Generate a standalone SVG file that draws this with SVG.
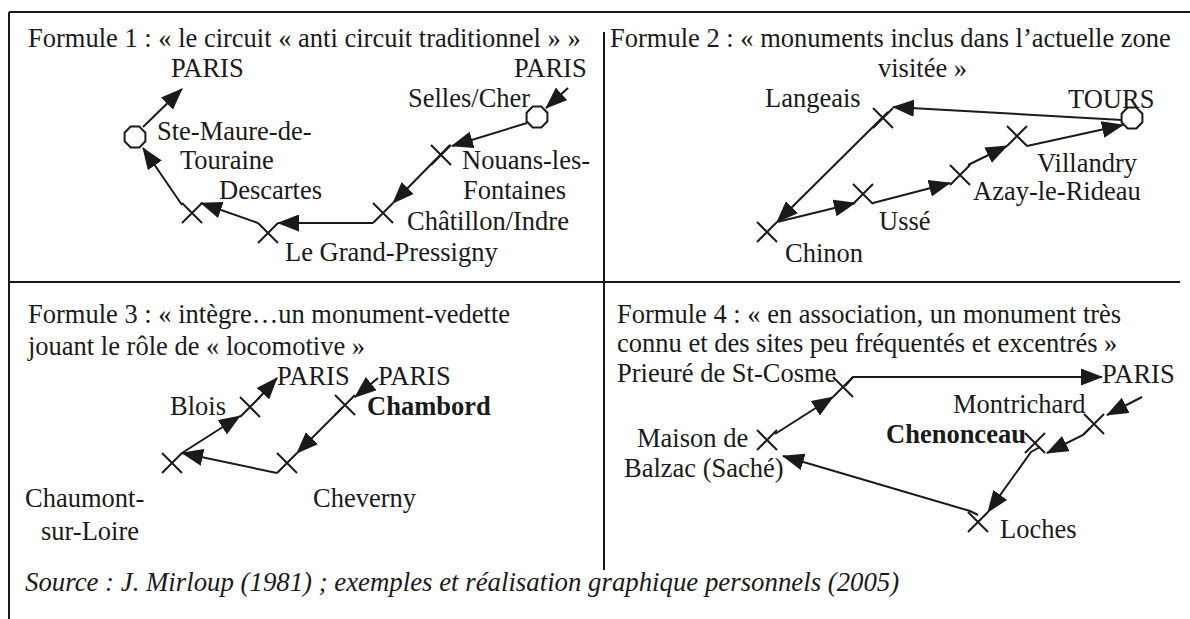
<svg xmlns="http://www.w3.org/2000/svg" width="1190" height="619" viewBox="0 0 1190 619">
<style>
text{font-family:"Liberation Serif","Times New Roman",serif;font-size:26.5px;fill:#1a1a1a}
.b{font-weight:bold}
.i{font-style:italic;font-size:26.8px}
.frame{stroke:#1a1a1a;stroke-width:2;fill:none}
.c{stroke:#1a1a1a;stroke-width:2;fill:none}
.a{stroke:#1a1a1a;stroke-width:2;fill:none;marker-end:url(#ah)}
.o{stroke:#1a1a1a;stroke-width:2;fill:#fff}
</style>
<defs>
<marker id="ah" markerUnits="userSpaceOnUse" markerWidth="22" markerHeight="17" viewBox="0 0 22 17" refX="21" refY="8.5" orient="auto">
<path d="M0,0 L22,8.5 L0,17 z" fill="#1a1a1a"/>
</marker>
<path id="x" d="M-10,-10 L10,10 M10,-10 L-10,10"/>
<polygon id="oct" points="4.3,-10.4 10.4,-4.3 10.4,4.3 4.3,10.4 -4.3,10.4 -10.4,4.3 -10.4,-4.3 -4.3,-10.4"/>
</defs>
<rect width="1190" height="619" fill="#fff"/>
<g id="frame">
<line class="frame" x1="9" y1="12" x2="1190" y2="12"/>
<line class="frame" x1="9" y1="12" x2="9" y2="619"/>
<line class="frame" x1="9" y1="282" x2="1180" y2="282"/>
<line class="frame" x1="604" y1="32" x2="604" y2="282"/>
<line class="frame" x1="604" y1="282" x2="604" y2="570"/>
</g>
<g id="connectors">
<line class="a" x1="143" y1="127" x2="182" y2="89"/>
<line class="a" x1="182" y1="205" x2="143" y2="148"/>
<line class="a" x1="258" y1="223" x2="201" y2="203"/>
<line class="a" x1="373" y1="223" x2="278" y2="223"/>
<line class="a" x1="450" y1="145" x2="393" y2="203"/>
<line class="a" x1="527" y1="123" x2="452" y2="146"/>
<line class="a" x1="568" y1="88" x2="546" y2="108"/>
<line class="a" x1="1122" y1="120" x2="893" y2="107"/>
<line class="a" x1="888" y1="112" x2="777" y2="222"/>
<line class="a" x1="777" y1="222" x2="855" y2="203"/>
<line class="a" x1="873" y1="203" x2="950" y2="183"/>
<line class="a" x1="968" y1="165" x2="1007" y2="146"/>
<line class="a" x1="1027" y1="146" x2="1123" y2="125"/>
<line class="a" x1="258" y1="399" x2="277" y2="378"/>
<line class="a" x1="182" y1="453" x2="240" y2="416"/>
<line class="a" x1="277" y1="473" x2="182" y2="453"/>
<line class="a" x1="343" y1="407" x2="297" y2="453"/>
<line class="a" x1="378" y1="378" x2="355" y2="397"/>
<polyline class="a" points="845,386 853,377 1102,377"/>
<line class="a" x1="775" y1="434" x2="833" y2="397"/>
<polyline class="a" points="978,515 970,511 783,456"/>
<polyline class="a" points="1040,447 1031,452 988,512"/>
<polyline class="a" points="1090,428 1083,435 1047,453"/>
<line class="a" x1="1142" y1="397" x2="1107" y2="415"/>
</g>
<g id="nodes-q1">
<text x="28" y="47">Formule 1 : « le circuit « anti circuit traditionnel » »</text>
<g id="q1-paris-l"><text x="171" y="77">PARIS</text></g>
<g id="q1-stemaure"><use href="#oct" class="o" x="135" y="137"/><text x="157" y="140">Ste-Maure-de-</text><text x="180" y="169">Touraine</text></g>
<g id="q1-descartes"><use href="#x" class="c" x="192" y="213"/><text x="219" y="199">Descartes</text></g>
<g id="q1-grandpressigny"><use href="#x" class="c" x="268" y="233"/><text x="285" y="261">Le Grand-Pressigny</text></g>
<g id="q1-chatillon"><use href="#x" class="c" x="383" y="213"/><text x="407" y="230">Châtillon/Indre</text></g>
<g id="q1-nouans"><use href="#x" class="c" x="441" y="155"/><text x="462" y="169">Nouans-les-</text><text x="463" y="199">Fontaines</text></g>
<g id="q1-selles"><use href="#oct" class="o" x="537" y="117"/><text x="408" y="107">Selles/Cher</text></g>
<g id="q1-paris-r"><text x="514" y="77">PARIS</text></g>
</g>
<g id="nodes-q2">
<text x="610" y="47">Formule 2 : « monuments inclus dans l’actuelle zone</text>
<text x="878" y="77">visitée »</text>
<g id="q2-langeais"><use href="#x" class="c" x="883" y="118"/><text x="765" y="107">Langeais</text></g>
<g id="q2-tours"><use href="#oct" class="o" x="1132" y="118"/><text x="1068" y="108">TOURS</text></g>
<g id="q2-chinon"><use href="#x" class="c" x="767" y="232"/><text x="785" y="262">Chinon</text></g>
<g id="q2-usse"><use href="#x" class="c" x="863" y="194"/><text x="879" y="230">Ussé</text></g>
<g id="q2-azay"><use href="#x" class="c" x="960" y="175"/><text x="973" y="200">Azay-le-Rideau</text></g>
<g id="q2-villandry"><use href="#x" class="c" x="1017" y="136"/><text x="1037" y="172">Villandry</text></g>
</g>
<g id="nodes-q3">
<text x="28" y="323">Formule 3 : « intègre…un monument-vedette</text>
<text x="28" y="355">jouant le rôle de « locomotive »</text>
<g id="q3-paris-l"><text x="277" y="385">PARIS</text></g>
<g id="q3-paris-r"><text x="378" y="385">PARIS</text></g>
<g id="q3-blois"><use href="#x" class="c" x="250" y="407"/><text x="170" y="415">Blois</text></g>
<g id="q3-chambord"><use href="#x" class="c" x="345" y="405"/><text class="b" x="367" y="415">Chambord</text></g>
<g id="q3-chaumont"><use href="#x" class="c" x="172" y="463"/><text x="25" y="507">Chaumont-</text><text x="41" y="540">sur-Loire</text></g>
<g id="q3-cheverny"><use href="#x" class="c" x="287" y="463"/><text x="313" y="507">Cheverny</text></g>
</g>
<g id="nodes-q4">
<text x="617" y="323">Formule 4 : « en association, un monument très</text>
<text x="617" y="352">connu et des sites peu fréquentés et excentrés »</text>
<g id="q4-stcosme"><use href="#x" class="c" x="843" y="387"/><text x="617" y="382">Prieuré de St-Cosme</text></g>
<g id="q4-paris"><text x="1102" y="383">PARIS</text></g>
<g id="q4-montrichard"><use href="#x" class="c" x="1094" y="424"/><text x="953" y="413">Montrichard</text></g>
<g id="q4-chenonceau"><use href="#x" class="c" x="1035" y="443"/><text class="b" x="886" y="443">Chenonceau</text></g>
<g id="q4-maison"><use href="#x" class="c" x="767" y="440"/><text x="637" y="447">Maison de</text><text x="624" y="477">Balzac (Saché)</text></g>
<g id="q4-loches"><use href="#x" class="c" x="978" y="522"/><text x="1000" y="538">Loches</text></g>
</g>
<text class="i" x="25" y="591">Source : J. Mirloup (1981) ; exemples et réalisation graphique personnels (2005)</text>
</svg>
